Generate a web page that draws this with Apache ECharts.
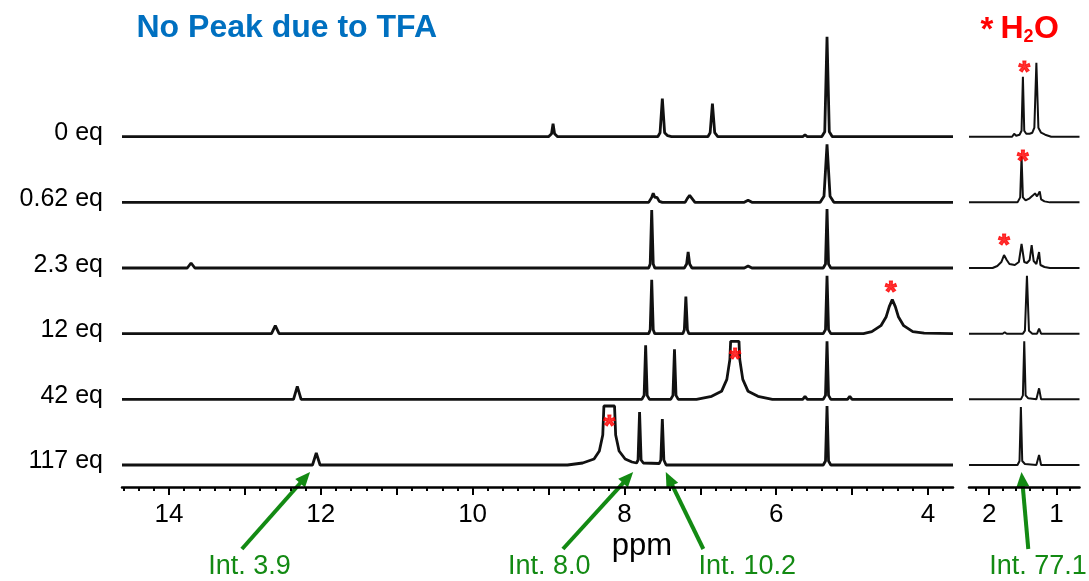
<!DOCTYPE html>
<html>
<head>
<meta charset="utf-8">
<script src="https://cdn.jsdelivr.net/npm/echarts@6/dist/echarts.min.js"></script>
<style>
  html, body { margin: 0; padding: 0; background: #fff; }
  #chart { width: 1089px; height: 581px; }
</style>
</head>
<body>
<div id="chart"></div>
<script>
// TFA titration, top trace first
const eqLabels = ['0 eq', '0.62 eq', '2.3 eq', '12 eq', '42 eq', '117 eq']

// main window: [ppm, height above the trace baseline]
const main0 = [[14.62, 0], [9.00, 0], [8.96, 3], [8.94, 13], [8.92, 3], [8.88, 0],
  [7.56, 0], [7.53, 4], [7.50, 38], [7.47, 4], [7.43, 1], [7.38, 0],
  [6.90, 0], [6.87, 4], [6.84, 33], [6.81, 4], [6.77, 0],
  [5.65, 0], [5.62, 2], [5.59, 0],
  [5.40, 0], [5.36, 5], [5.33, 100], [5.30, 5], [5.26, 0], [3.67, 0]]
const main1 = [[14.62, 0], [7.68, 0], [7.64, 5], [7.62, 9], [7.60, 5], [7.57, 5], [7.54, 1], [7.50, 0],
  [7.20, 0], [7.17, 4], [7.14, 7], [7.11, 4], [7.07, 0],
  [6.42, 0], [6.37, 2], [6.32, 0],
  [5.42, 0], [5.37, 6], [5.33, 58], [5.29, 6], [5.24, 0], [3.67, 0]]
const main2 = [[14.62, 0], [13.76, 0], [13.71, 5], [13.66, 0],
  [7.68, 0], [7.66, 4], [7.64, 58], [7.62, 4], [7.60, 0],
  [7.21, 0], [7.18, 4], [7.16, 16], [7.14, 4], [7.11, 0],
  [6.42, 0], [6.37, 2], [6.32, 0],
  [5.38, 0], [5.35, 4], [5.33, 59], [5.31, 4], [5.28, 0], [3.67, 0]]
const main3 = [[14.62, 0], [12.65, 0], [12.60, 8], [12.55, 0],
  [7.68, 0], [7.66, 4], [7.64, 54], [7.62, 4], [7.60, 0],
  [7.23, 0], [7.21, 4], [7.19, 37], [7.17, 4], [7.15, 0],
  [5.38, 0], [5.35, 4], [5.33, 58], [5.31, 4], [5.28, 0],
  [4.85, 0], [4.74, 2], [4.62, 8], [4.55, 17], [4.51, 27], [4.47, 34], [4.43, 27], [4.39, 17],
  [4.32, 8], [4.20, 2], [4.05, 0.5], [3.67, 0]]
const main4 = [[14.62, 0], [12.36, 0], [12.31, 13], [12.26, 0],
  [7.77, 0], [7.74, 4], [7.72, 54], [7.70, 4], [7.67, 0],
  [7.39, 0], [7.36, 4], [7.34, 50], [7.32, 4], [7.29, 0],
  [7.05, 0], [6.85, 3], [6.72, 8], [6.65, 20], [6.61, 40], [6.60, 58], [6.49, 58], [6.48, 40],
  [6.44, 20], [6.37, 8], [6.24, 3], [6.05, 0],
  [5.65, 0], [5.62, 3], [5.59, 0],
  [5.38, 0], [5.35, 4], [5.33, 58], [5.31, 4], [5.28, 0],
  [5.06, 0], [5.03, 3], [5.00, 0], [3.67, 0]]
const main5 = [[14.62, 0], [12.11, 0], [12.06, 12], [12.01, 0],
  [8.75, 0], [8.55, 2], [8.40, 6], [8.33, 14], [8.285, 30], [8.27, 59], [8.13, 59], [8.115, 30],
  [8.07, 14], [7.99, 6], [7.90, 3], [7.84, 2], [7.82, 5], [7.80, 53], [7.78, 5], [7.75, 2],
  [7.54, 1.5], [7.52, 5], [7.50, 46], [7.48, 5], [7.45, 0],
  [5.38, 0], [5.35, 4], [5.33, 59], [5.31, 4], [5.28, 0], [3.67, 0]]

// aliphatic window (H2O region)
const side0 = [[2.30, 0], [1.66, 0], [1.63, 3], [1.60, 1], [1.55, 2], [1.52, 6], [1.50, 60], [1.48, 6],
  [1.45, 3], [1.40, 3], [1.36, 4], [1.33, 9], [1.30, 74], [1.27, 9], [1.23, 4], [1.17, 2], [1.08, 0], [0.66, 0]]
const side1 = [[2.30, 0], [1.58, 0], [1.54, 5], [1.52, 46], [1.50, 5], [1.46, 2], [1.40, 4], [1.35, 7],
  [1.32, 9], [1.29, 6], [1.27, 8], [1.25, 11], [1.23, 3], [1.18, 1], [1.10, 0], [0.66, 0]]
const side2 = [[2.30, 0], [1.95, 0], [1.88, 2], [1.82, 6], [1.78, 13], [1.74, 8], [1.70, 4], [1.62, 3],
  [1.56, 6], [1.52, 24], [1.48, 6], [1.44, 5], [1.40, 8], [1.37, 23], [1.34, 7], [1.30, 4], [1.28, 6],
  [1.26, 16], [1.24, 3], [1.18, 1], [1.10, 0], [0.66, 0]]
const side3 = [[2.30, 0], [1.80, 0], [1.77, 1.5], [1.74, 0], [1.50, 0], [1.47, 3], [1.44, 58], [1.41, 3],
  [1.36, 0], [1.29, 0], [1.26, 5], [1.23, 0], [0.66, 0]]
const side4 = [[2.30, 0], [1.53, 0], [1.50, 4], [1.48, 58], [1.46, 4], [1.42, 1], [1.30, 0], [1.26, 11],
  [1.23, 0], [0.66, 0]]
const side5 = [[2.30, 0], [1.58, 0], [1.55, 4], [1.53, 58], [1.51, 4], [1.47, 1], [1.30, 0], [1.26, 10],
  [1.23, 0], [0.66, 0]]

const mainTraces = [main0, main1, main2, main3, main4, main5]
const sideTraces = [side0, side1, side2, side3, side4, side5]

// water peaks marked with * : [ppm, trace, height]
const starsMain = [[4.49, 3, 46], [6.54, 4, 45], [8.20, 5, 43]]
const starsSide = [[1.48, 0, 69], [1.50, 1, 46], [1.78, 2, 27]]

// integrals of the 117 eq trace
const intTexts = ['Int. 3.9', 'Int. 8.0', 'Int. 10.2', 'Int. 77.1']
const intPeakPpm = [12.06, 7.80, 7.50, 1.53]
const intTailPpm = [13.04, 8.81, 6.96, 1.42]
const intTextPpm = [12.94, 8.99, 6.38, 2.00]
const intPanel = [0, 0, 0, 1]

// tick values
const mainLabels = [4, 6, 8, 10, 12, 14]
const mainMajor = [4, 5, 6, 7, 8, 9, 10, 11, 12, 13, 14]
const mainMinor = [3.8, 4.0, 4.2, 4.4, 4.6, 4.8, 5.0, 5.2, 5.4, 5.6, 5.8, 6.0, 6.2, 6.4, 6.6, 6.8,
  7.0, 7.2, 7.4, 7.6, 7.8, 8.0, 8.2, 8.4, 8.6, 8.8, 9.0, 9.2, 9.4, 9.6, 9.8, 10.0, 10.2, 10.4,
  10.6, 10.8, 11.0, 11.2, 11.4, 11.6, 11.8, 12.0, 12.2, 12.4, 12.6, 12.8, 13.0, 13.2, 13.4,
  13.6, 13.8, 14.0, 14.2, 14.4, 14.6]
const sideLabels = [1, 2]
const sideMajor = [1, 2]
const sideMinor = [0.8, 1.0, 1.2, 1.4, 1.6, 1.8, 2.0, 2.2]

// layout
const FONT = 'Liberation Sans, Arial, sans-serif'
const GREEN = '#138a13'
const BASE = 22      // baseline of the bottom trace
const STEP = 65.66   // vertical offset between traces
const LIFT = 3.4     // eq label sits a little above its baseline
function offsetOf(i) { return BASE + (5 - i) * STEP }

const chart = echarts.init(document.getElementById('chart'))

function traceSeries(traces, axis, width) {
  return traces.map((pts, i) => ({
    type: 'line',
    xAxisIndex: axis.x,
    yAxisIndex: axis.y,
    data: pts.map(p => [p[0], p[1] + offsetOf(i)]),
    symbol: 'none',
    silent: true,
    lineStyle: { color: '#111', width: width }
  }))
}

function starSeries(stars, axis) {
  return {
    type: 'scatter',
    xAxisIndex: axis.x,
    yAxisIndex: axis.y,
    data: stars.map(s => [s[0], s[2] + offsetOf(s[1])]),
    symbolSize: 0,
    itemStyle: { color: '#ff0000' },
    silent: true,
    z: 5,
    label: {
      show: true, position: 'inside', formatter: '*', offset: [0, 5],
      color: '#ff0000', fontSize: 30, fontWeight: 'bold', fontFamily: FONT,
      textBorderColor: '#ff0000', textBorderWidth: 1
    }
  }
}

function ppmAxis(grid, min, max, ticks, labels, tickLen) {
  return {
    type: 'value', gridIndex: grid, position: 'bottom', inverse: true, min: min, max: max,
    axisLine: { show: labels != null, lineStyle: { color: '#000', width: 2.5 } },
    axisTick: { show: true, customValues: ticks, length: tickLen, lineStyle: { color: '#000', width: 2 } },
    axisLabel: labels ? { show: true, customValues: labels, margin: 15, color: '#000', fontSize: 26, fontFamily: FONT }
      : { show: false },
    splitLine: { show: false }
  }
}

const option = {
  animation: false,
  backgroundColor: '#fff',
  grid: [
    { left: 122, top: 30, width: 831, height: 457, outerBoundsMode: 'none' },
    { left: 969, top: 30, width: 110.5, height: 457, outerBoundsMode: 'none' }
  ],
  xAxis: [
    ppmAxis(0, 3.67, 14.62, mainMajor, mainLabels, 8),
    ppmAxis(0, 3.67, 14.62, mainMinor, null, 4),
    ppmAxis(1, 0.66, 2.30, sideMajor, sideLabels, 8),
    ppmAxis(1, 0.66, 2.30, sideMinor, null, 4)
  ],
  yAxis: [
    {
      type: 'value', gridIndex: 0, min: 0, max: 457,
      axisLine: { show: false }, axisTick: { show: false }, splitLine: { show: false },
      axisLabel: {
        customValues: eqLabels.map((l, i) => offsetOf(i) + LIFT),
        formatter: v => eqLabels[5 - Math.round((v - LIFT - BASE) / STEP)],
        margin: 19, color: '#000', fontSize: 25, fontFamily: FONT
      }
    },
    { type: 'value', gridIndex: 1, min: 0, max: 457, show: false }
  ],
  series: [].concat(
    traceSeries(mainTraces, { x: 0, y: 0 }, 2.8),
    traceSeries(sideTraces, { x: 2, y: 1 }, 2),
    [starSeries(starsMain, { x: 0, y: 0 }), starSeries(starsSide, { x: 2, y: 1 })]
  )
}
chart.setOption(option)

// annotations: titles, ppm label, integral arrows
function txt(x, y, text, size, color, weight, align) {
  return {
    type: 'text', x: x, y: y, silent: true,
    style: {
      text: text, fill: color, fontSize: size, fontWeight: weight || 'normal', fontFamily: FONT,
      align: align || 'left', verticalAlign: 'middle',
      textAlign: align || 'left', textVerticalAlign: 'middle'
    }
  }
}

function arrow(tail, tip) {
  const dx = tip[0] - tail[0], dy = tip[1] - tail[1]
  const len = Math.hypot(dx, dy)
  const ux = dx / len, uy = dy / len
  const head = 15, half = 6.5
  const bx = tip[0] - ux * head, by = tip[1] - uy * head
  return [
    { type: 'line', silent: true, shape: { x1: tail[0], y1: tail[1], x2: bx + ux * 2, y2: by + uy * 2 },
      style: { stroke: GREEN, lineWidth: 4 } },
    { type: 'polygon', silent: true,
      shape: { points: [tip, [bx - uy * half, by + ux * half], [bx + uy * half, by - ux * half]] },
      style: { fill: GREEN } }
  ]
}

const graphics = [
  txt(136.5, 28, 'No Peak due to TFA', 32, '#0070c0', 'bold'),
  txt(987, 31, '*', 33, '#ff0000', 'bold', 'center'),
  txt(1000.5, 28.8, 'H', 32, '#ff0000', 'bold'),
  txt(1023.5, 37, '2', 18, '#ff0000', 'bold'),
  txt(1034, 28.8, 'O', 32, '#ff0000', 'bold')
]

const ppmX = chart.convertToPixel({ xAxisIndex: 0, yAxisIndex: 0 }, [7.77, 0])[0]
graphics.push(txt(ppmX, 546.5, 'ppm', 31, '#000', 'normal', 'center'))

const TAIL_Y = 549
intTexts.forEach((t, k) => {
  const finder = intPanel[k] === 0 ? { xAxisIndex: 0, yAxisIndex: 0 } : { xAxisIndex: 2, yAxisIndex: 1 }
  const target = chart.convertToPixel(finder, [intPeakPpm[k], offsetOf(5)])
  const tail = [chart.convertToPixel(finder, [intTailPpm[k], 0])[0], TAIL_Y]
  const tipY = target[1] + 7
  const f = (tail[1] - tipY) / (tail[1] - target[1])
  const tip = [tail[0] + f * (target[0] - tail[0]), tipY]
  arrow(tail, tip).forEach(g => graphics.push(g))
  const lx = chart.convertToPixel(finder, [intTextPpm[k], 0])[0]
  graphics.push(txt(lx, 567, t, 27, GREEN, 'normal', intPanel[k] === 0 ? 'center' : 'left'))
})

chart.setOption({ graphic: { elements: graphics } })
</script>
</body>
</html>
